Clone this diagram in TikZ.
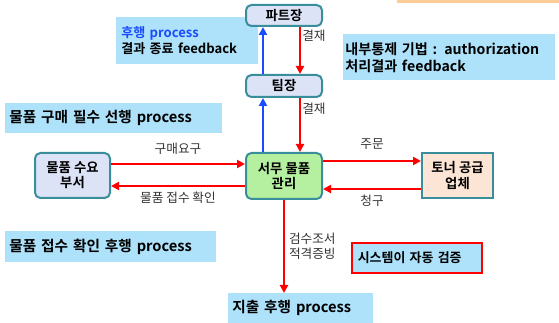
\documentclass[tikz,border=0pt]{standalone}
\usepackage{fontspec}
\setmainfont{Noto Sans CJK KR}[BoldFont={Noto Sans CJK KR Bold}]
\usetikzlibrary{arrows.meta}
\definecolor{redline}{HTML}{FF0000}
\definecolor{blueline}{HTML}{1A4CFF}
\definecolor{notefill}{HTML}{AEE2FA}
\definecolor{edgeteal}{HTML}{3A8E9C}
\definecolor{lavender}{HTML}{DCE3F7}
\definecolor{mintgreen}{HTML}{B5F0A0}
\definecolor{peach}{HTML}{FDE5D5}
\definecolor{stripe}{HTML}{FFCC99}
\definecolor{labelgray}{HTML}{333333}
\definecolor{procblue}{HTML}{1A4CFF}
\tikzset{
  actor/.style={draw=edgeteal, line width=1.5pt, rounded corners=4pt, fill=lavender,
    font=\fontsize{10}{11.5}\selectfont\bfseries, align=center, inner sep=0pt},
  note/.style={fill=notefill, font=\fontsize{11}{13}\selectfont\bfseries, align=left,
    inner sep=0pt, anchor=north west},
  smallnote/.style={note, font=\fontsize{10}{12.5}\selectfont\bfseries},
  redflow/.style={draw=redline, line width=1.5pt, -{Triangle[length=6pt,width=6pt]}},
  blueflow/.style={draw=blueline, line width=1.5pt, -{Triangle[length=6pt,width=6pt]}},
  flowlabel/.style={font=\fontsize{9.5}{11.5}\selectfont, text=labelgray, align=left, inner sep=1pt}
}
\begin{document}
\begin{tikzpicture}[x=0.75pt,y=-0.75pt]
\useasboundingbox (0,0) rectangle (559,323);
% thin accent stripe at the top right
\fill[stripe] (397,0) rectangle (559,3);

% explanatory notes
\node[smallnote, font=\fontsize{9.8}{12.5}\selectfont\bfseries, minimum width=142*0.75pt, minimum height=47*0.75pt, text width=132*0.75pt] (fb) at (116,17)
  {\textcolor{procblue}{후행 process}\\결과 종료 feedback};
\node[smallnote, font=\fontsize{10.6}{12.8}\selectfont\bfseries, minimum width=212*0.75pt, minimum height=46*0.75pt, text width=208*0.75pt] (ctrl) at (343,34)
  {내부통제 기법 : authorization\\처리결과 feedback};
\node[note, minimum width=217*0.75pt, minimum height=30*0.75pt, text width=209*0.75pt] (pre) at (5,103)
  {물품 구매 필수 선행 process};
\node[note, minimum width=211*0.75pt, minimum height=31*0.75pt, text width=203*0.75pt] (post) at (5,231)
  {물품 접수 확인 후행 process};
\node[note, minimum width=145*0.75pt, minimum height=30*0.75pt, text width=137*0.75pt] (pay) at (228,293)
  {지출 후행 process};
\node[smallnote, font=\fontsize{9.7}{12}\selectfont\bfseries, draw=redline, line width=1.2pt, minimum width=130*0.75pt, minimum height=30*0.75pt,
  text width=118*0.75pt] (auto) at (351,242) {시스템이 자동 검증};

% actors
\node[actor, minimum width=76*0.75pt, minimum height=21*0.75pt] (part) at (284,15.5) {파트장};
\node[actor, minimum width=76*0.75pt, minimum height=22*0.75pt] (team) at (284,86) {팀장};
\node[actor, fill=mintgreen, minimum width=76*0.75pt, minimum height=46*0.75pt] (admin) at (284,176) {서무 물품\\관리};
\node[actor, minimum width=75*0.75pt, minimum height=45*0.75pt] (dept) at (72.5,175.5) {물품 수요\\부서};
\node[actor, rounded corners=0pt, fill=peach, minimum width=71*0.75pt, minimum height=45*0.75pt] (toner) at (457.5,175.5) {토너 공급\\업체};

% approval chain
\draw[blueflow] (team.north -| 263,0) -- (part.south -| 263,0);
\draw[blueflow] (admin.north -| 263,0) -- (team.south -| 263,0);
\draw[redflow] (part.south -| 300,0) -- node[flowlabel, right, pos=0.18] {결재} (team.north -| 300,0);
\draw[redflow] (team.south -| 300,0) -- node[flowlabel, right, pos=0.2] {결재} (admin.north -| 300,0);

% requesting department
\draw[redflow] (dept.east |- 0,164) -- node[flowlabel, above=5pt] {구매요구} (admin.west |- 0,164);
\draw[redflow] (admin.west |- 0,186) -- node[flowlabel, below=3pt] {물품 접수 확인} (dept.east |- 0,186);

% supplier
\draw[redflow] (admin.east |- 0,161) -- node[flowlabel, above=7pt] {주문} (toner.west |- 0,161);
\draw[redflow] (toner.west |- 0,189) -- node[flowlabel, below=3pt] {청구} (admin.east |- 0,189);

% payment
\draw[redflow] (admin.south -| 284,0) -- node[flowlabel, right=2pt, pos=0.5] {검수조서\\적격증빙} (pay.north -| 284,0);
\end{tikzpicture}
\end{document}
